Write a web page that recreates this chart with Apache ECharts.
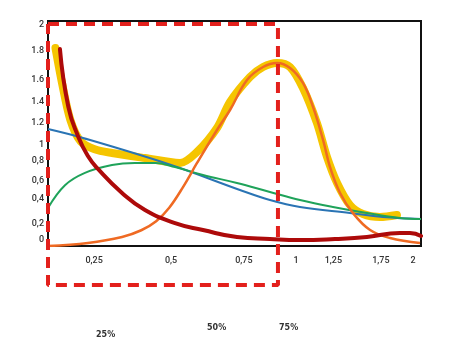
<!DOCTYPE html>
<html>
<head>
<meta charset="utf-8">
<script src="https://cdn.jsdelivr.net/npm/echarts@6/dist/echarts.min.js"></script>
<style>
  html, body { margin: 0; padding: 0; background: #fff; }
  #chart { width: 467px; height: 351px; }
</style>
</head>
<body>
<div id="chart"></div>
<script>
  // tick labels sit where the drawing put them, not on a regular step
  var xTickPos = [0.247, 0.66, 1.05, 1.33, 1.53, 1.785, 1.957];
  var xTickLabels = ['0,25', '0,5', '0,75', '1', '1,25', '1,75', '2'];
  var yTickPos = [0.053, 0.196, 0.418, 0.578, 0.756, 0.898, 1.093, 1.28, 1.476, 1.733, 1.964];
  var yTickLabels = ['0', '0,2', '0,4', '0,6', '0,8', '1', '1.2', '1.4', '1.6', '1.8', '2'];

  // curves, [x, y] in axis units
  var yellowData = [[0.04, 1.76], [0.075, 1.45], [0.12, 1.12], [0.175, 0.93], [0.25, 0.86],
    [0.343, 0.827], [0.52, 0.782], [0.708, 0.738], [0.799, 0.836], [0.906, 1.049], [0.976, 1.28],
    [1.083, 1.502], [1.153, 1.591], [1.228, 1.627], [1.298, 1.591], [1.367, 1.404], [1.442, 1.093],
    [1.496, 0.791], [1.55, 0.56], [1.619, 0.364], [1.689, 0.284], [1.78, 0.258], [1.871, 0.276]];
  var darkRedData = [[0.064, 1.751], [0.109, 1.238], [0.162, 0.972], [0.214, 0.8], [0.268, 0.685],
    [0.397, 0.471], [0.52, 0.32], [0.681, 0.204], [0.831, 0.142], [1.013, 0.08], [1.19, 0.062],
    [1.351, 0.053], [1.539, 0.062], [1.71, 0.08], [1.887, 0.116], [1.941, 0.116], [2.0, 0.089]];
  var blueData = [[0, 1.04], [0.188, 0.96], [0.66, 0.72], [1.029, 0.498], [1.19, 0.409],
    [1.351, 0.347], [1.619, 0.293], [1.796, 0.258], [2.0, 0.24]];
  var greenData = [[0, 0.338], [0.091, 0.54], [0.198, 0.65], [0.343, 0.72], [0.466, 0.738],
    [0.574, 0.738], [0.681, 0.702], [0.831, 0.631], [1.013, 0.56], [1.19, 0.48], [1.351, 0.409],
    [1.528, 0.347], [1.71, 0.293], [1.887, 0.249], [2.0, 0.24]];
  var orangeData = [[0, 0], [0.214, 0.027], [0.397, 0.08], [0.5, 0.14], [0.58, 0.22],
    [0.65, 0.34], [0.724, 0.524], [0.799, 0.738], [0.906, 1.031], [0.976, 1.209], [1.067, 1.476],
    [1.153, 1.591], [1.228, 1.627], [1.298, 1.582], [1.367, 1.449], [1.421, 1.236], [1.475, 0.942],
    [1.512, 0.702], [1.566, 0.471], [1.635, 0.293], [1.727, 0.142], [1.834, 0.071], [1.995, 0.027]];
  // dashed red box
  var boxData = [[0, 1.973], [1.233, 1.973], [1.233, -0.347], [0, -0.347], [0, 1.973]];
  var pctLabels = ['25%', '50%', '75%'];

  function lookup(pos, labels, v) {
    for (var i = 0; i < pos.length; i++) {
      if (Math.abs(pos[i] - v) < 1e-6) return labels[i];
    }
    return '';
  }

  var labelFont = { fontFamily: 'Roboto', fontSize: 9, fontWeight: 500, color: '#333' };
  var pctFont = 'bold 8px "DejaVu Sans"';

  var option = {
    animation: false,
    backgroundColor: '#fff',
    grid: {
      left: 48, right: 46, top: 21, bottom: 105,
      show: true, borderColor: '#111', borderWidth: 2, backgroundColor: 'transparent'
    },
    xAxis: {
      type: 'value', min: 0, max: 2,
      axisLine: { show: true, lineStyle: { color: '#111', width: 2 } },
      axisTick: { show: false },
      splitLine: { show: false },
      axisLabel: Object.assign({
        customValues: xTickPos,
        margin: 10,
        formatter: function (v) { return lookup(xTickPos, xTickLabels, v); }
      }, labelFont)
    },
    yAxis: {
      type: 'value', min: 0, max: 2,
      axisLine: { show: true, lineStyle: { color: '#111', width: 2 } },
      axisTick: { show: false },
      splitLine: { show: false },
      axisLabel: Object.assign({
        customValues: yTickPos,
        margin: 4,
        formatter: function (v) { return lookup(yTickPos, yTickLabels, v); }
      }, labelFont)
    },
    series: [
      {
        type: 'line', data: yellowData, smooth: 0.3, showSymbol: false, z: 2,
        lineStyle: { color: '#f5c500', width: 8, cap: 'round', join: 'round' }
      },
      {
        type: 'line', data: blueData, smooth: 0.4, showSymbol: false, z: 3,
        lineStyle: { color: '#2a74b4', width: 2 }
      },
      {
        type: 'line', data: greenData, smooth: 0.4, showSymbol: false, z: 3,
        lineStyle: { color: '#1fa35a', width: 2 }
      },
      {
        type: 'line', data: orangeData, smooth: 0.4, showSymbol: false, z: 4,
        lineStyle: { color: '#ef6a23', width: 2.5 }
      },
      {
        type: 'line', data: darkRedData, smooth: 0.5, showSymbol: false, z: 5,
        lineStyle: { color: '#ad0a0a', width: 4, cap: 'round' }
      },
      {
        type: 'line', data: boxData, showSymbol: false, clip: false, z: 10,
        lineStyle: { color: '#e3201c', width: 4, type: [11, 7] }
      }
    ],
    graphic: [
      { type: 'text', left: 96, top: 331, style: { text: pctLabels[0], font: pctFont, fill: '#333' } },
      { type: 'text', left: 207, top: 324, style: { text: pctLabels[1], font: pctFont, fill: '#333' } },
      { type: 'text', left: 279, top: 324, style: { text: pctLabels[2], font: pctFont, fill: '#333' } }
    ]
  };

  var myChart = echarts.init(document.getElementById('chart'));
  myChart.setOption(option);
</script>
</body>
</html>
